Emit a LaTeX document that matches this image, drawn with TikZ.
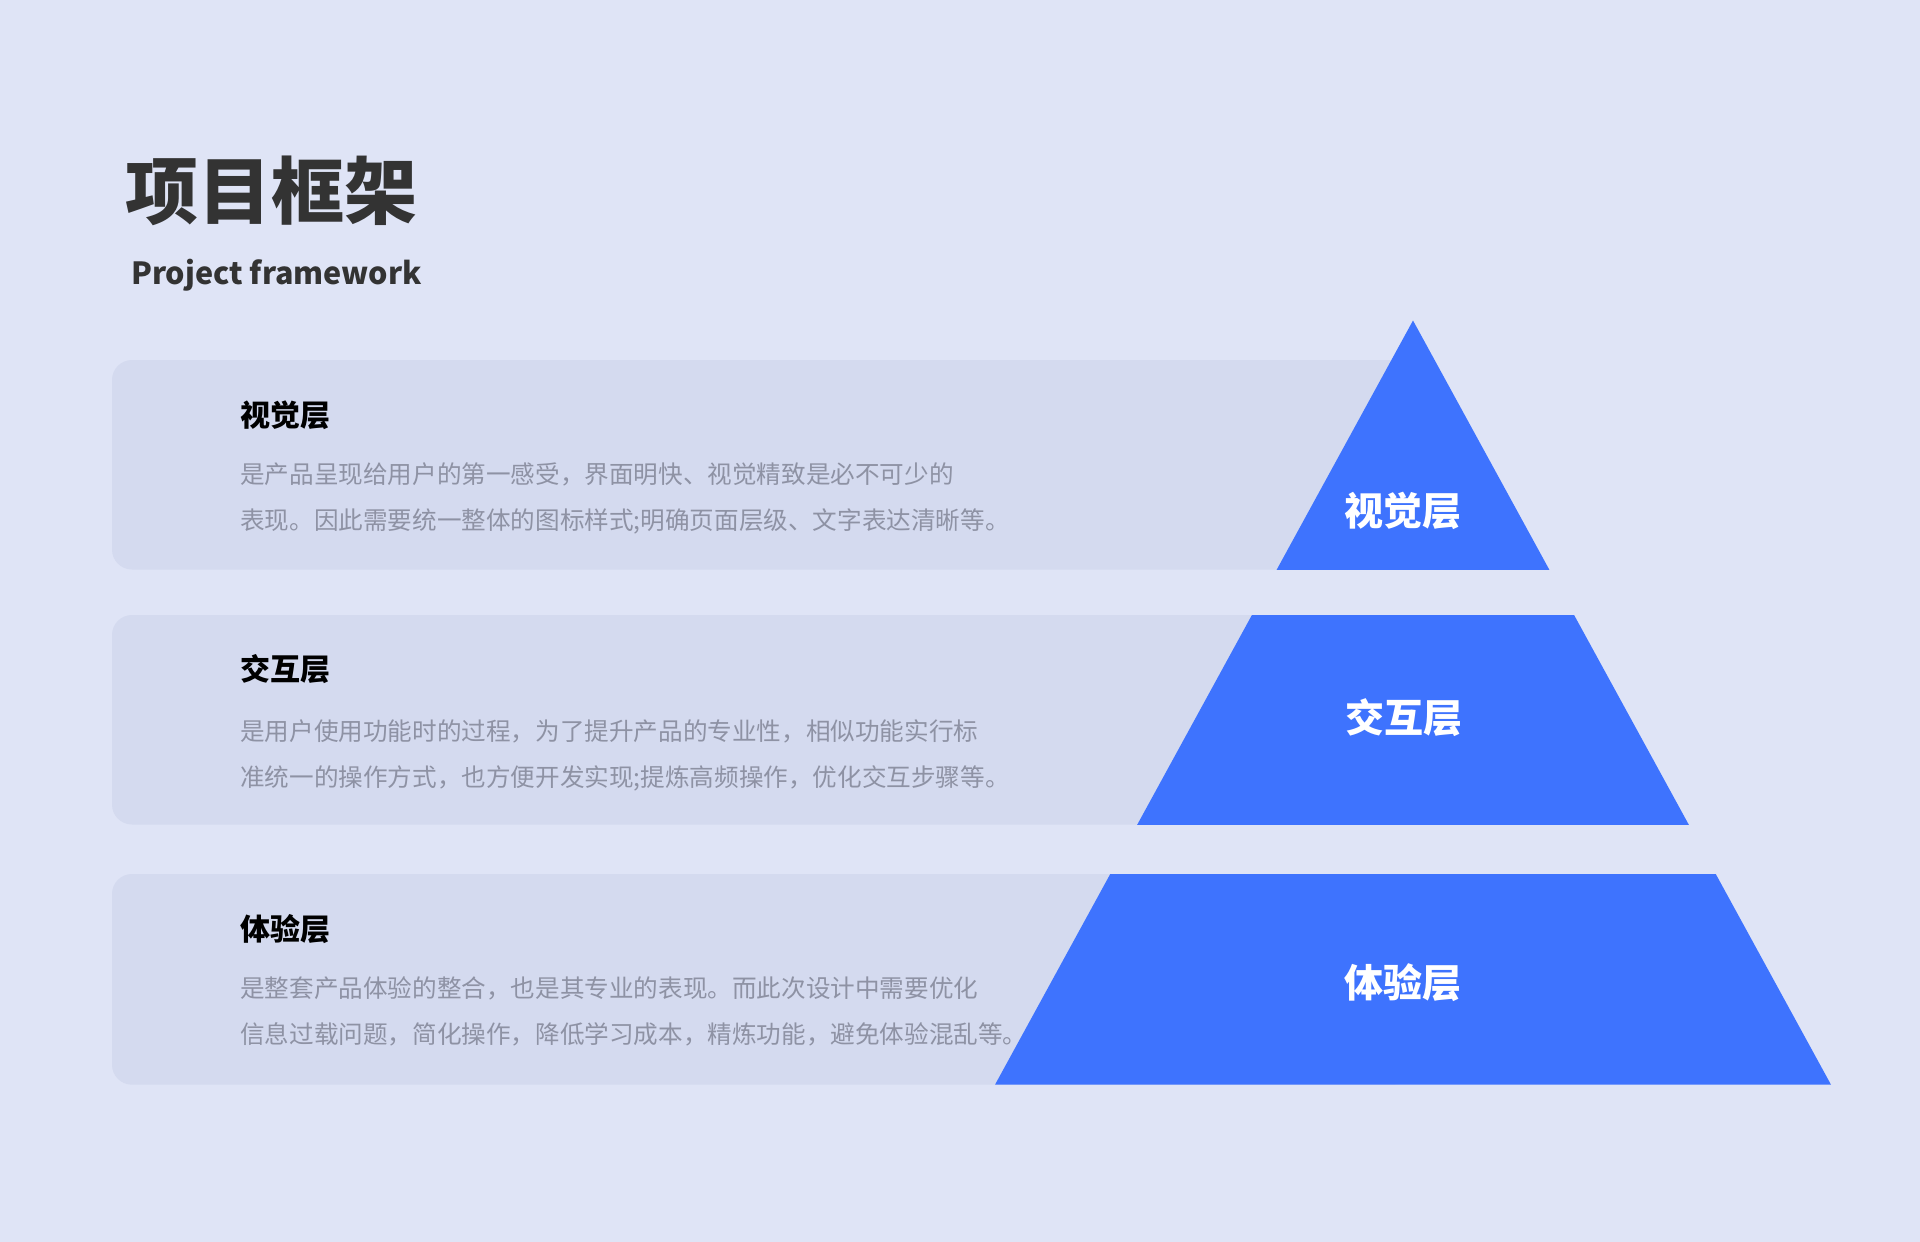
\documentclass[tikz,border=0pt]{standalone}
\usepackage{fontspec}
\setmainfont{Noto Sans CJK SC}

\definecolor{bg}{HTML}{DFE4F6}
\definecolor{panelgray}{HTML}{D4DAEF}
\definecolor{pyrblue}{HTML}{3E73FE}
\definecolor{titlegray}{HTML}{333333}
\definecolor{textgray}{HTML}{8E92A4}

\begin{document}
\begin{tikzpicture}[x=1pt, y=-1pt,
    panel/.style={fill=panelgray, rounded corners=20pt},
    head/.style={anchor=west, inner sep=0pt, font=\fontsize{30}{36}\selectfont\bfseries},
    body/.style={anchor=west, inner sep=0pt, align=left, text=textgray, font=\fontsize{24.6}{46}\selectfont},
    layer/.style={inner sep=0pt, text=white, font=\fontsize{39}{46}\selectfont\bfseries}]
    % Background
    \fill[bg] (0,0) rectangle (1920,1242);
    \useasboundingbox (0,0) rectangle (1920,1242);

    % Title
    \node[anchor=west, inner sep=0pt, text=titlegray, font=\fontsize{73}{80}\selectfont\bfseries] (title) at (125,191) {项目框架};
    \node[anchor=base west, inner sep=0pt, text=titlegray, font=\fontsize{30.5}{36}\selectfont\bfseries] (subtitle) at (131,284) {Project framework};

    % Panels
    \fill[panel] (112,360) rectangle (1413,569.5);
    \fill[panel] (112,615) rectangle (1413,824.5);
    \fill[panel] (112,874) rectangle (1413,1084.7);

    % Pyramid, cut into three bands
    \begin{scope}
        \clip (1413,320.5) -- (995,1084.7) -- (1831,1084.7) -- cycle;
        \fill[pyrblue] (990,320) rectangle (1840,569.5);
        \fill[pyrblue] (990,615) rectangle (1840,824.5);
        \fill[pyrblue] (990,874) rectangle (1840,1084.7);
    \end{scope}

    % Panel texts
    \node[head] (visual) at (240,415) {视觉层};
    \node[body] (visual-text) at (240,498) {是产品呈现给用户的第一感受，界面明快、视觉精致是必不可少的\\表现。因此需要统一整体的图标样式;明确页面层级、文字表达清晰等。};
    \node[head] (inter) at (240,669) {交互层};
    \node[body] (inter-text) at (240,755) {是用户使用功能时的过程，为了提升产品的专业性，相似功能实行标\\准统一的操作方式，也方便开发实现;提炼高频操作，优化交互步骤等。};
    \node[head] (exp) at (240,929) {体验层};
    \node[body] (exp-text) at (240,1011) {是整套产品体验的整合，也是其专业的表现。而此次设计中需要优化\\信息过载问题，简化操作，降低学习成本，精炼功能，避免体验混乱等。};

    % Pyramid labels
    \node[layer] (visual-tag) at (1403,511) {视觉层};
    \node[layer] (inter-tag) at (1404,718) {交互层};
    \node[layer] (exp-tag) at (1403,983) {体验层};
\end{tikzpicture}
\end{document}
